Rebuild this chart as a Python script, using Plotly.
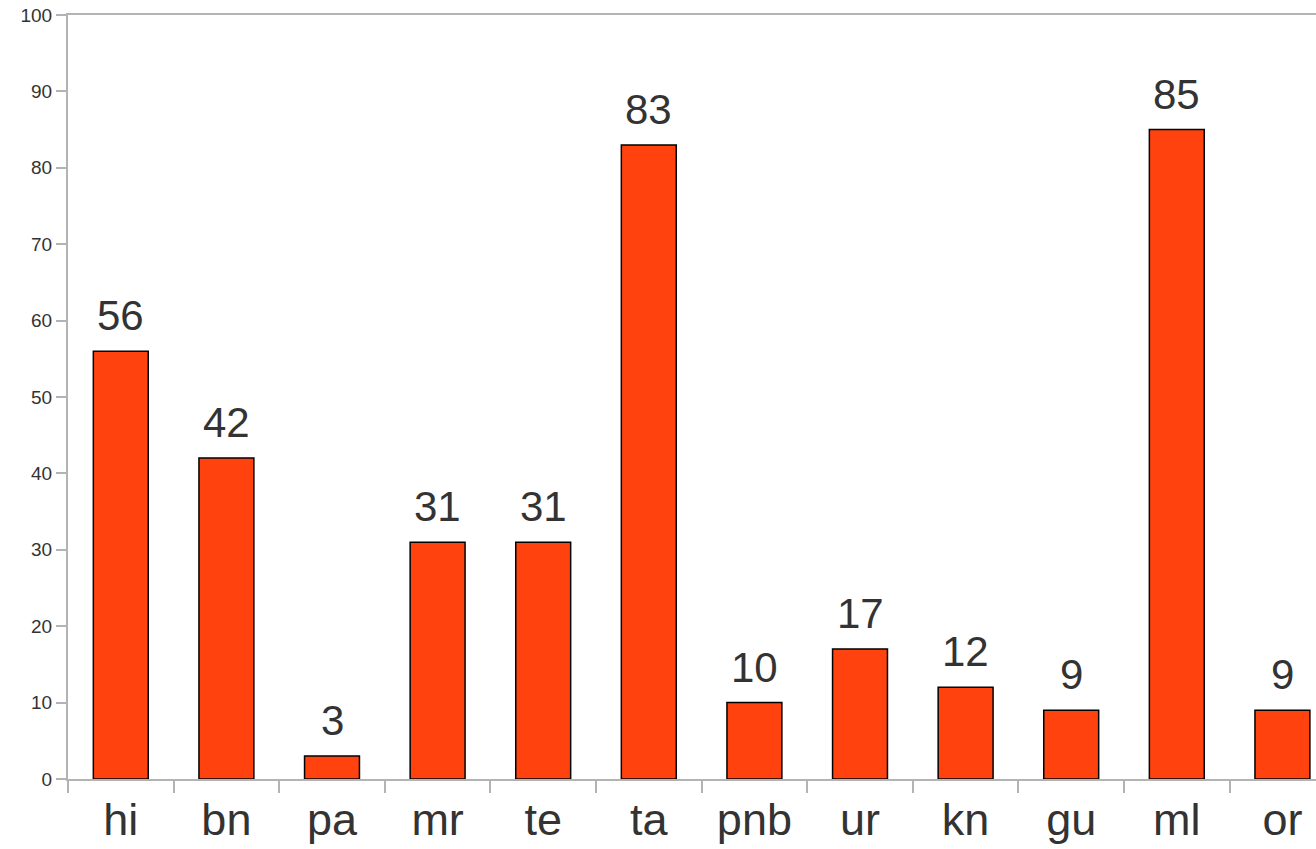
import plotly.graph_objects as go

categories = ["hi", "bn", "pa", "mr", "te", "ta", "pnb", "ur", "kn", "gu", "ml", "or"]
values = [56, 42, 3, 31, 31, 83, 10, 17, 12, 9, 85, 9]
y_ticks = list(range(0, 101, 10))

FONT = "Liberation Sans, Arial, sans-serif"
TEXT = "#333333"
AXIS = "#b3b3b3"

fig = go.Figure()
fig.add_trace(go.Bar(
    x=categories, y=values,
    marker=dict(color="#ff420e", line=dict(color="#000000", width=1.5)),
    hoverinfo="x+y",
))

for c, v in zip(categories, values):
    fig.add_annotation(x=c, y=v, text=str(v), showarrow=False,
                       yanchor="bottom", yshift=10,
                       font=dict(family=FONT, size=42, color=TEXT))

fig.update_layout(
    width=1316, height=849,
    margin=dict(l=68, r=0, t=15, b=70),
    paper_bgcolor="white", plot_bgcolor="white",
    bargap=0.48, showlegend=False,
    font=dict(family=FONT, color=TEXT),
    xaxis=dict(
        type="category", range=[-0.5, 11.318],
        showline=True, linecolor=AXIS, linewidth=2, mirror=True,
        ticks="outside", tickson="boundaries", ticklen=12, tickwidth=2, tickcolor=AXIS,
        tickfont=dict(family=FONT, size=45, color=TEXT),
        showgrid=False, zeroline=False, fixedrange=True,
    ),
    yaxis=dict(
        range=[0, 100], tickvals=y_ticks,
        showline=True, linecolor=AXIS, linewidth=2,
        ticks="outside", ticklen=10, tickwidth=2, tickcolor=AXIS,
        tickfont=dict(family=FONT, size=19, color=TEXT),
        showgrid=False, zeroline=False, fixedrange=True,
    ),
)

fig.write_html(
    "out.html",
    config={"displayModeBar": False},
    post_script="document.body.style.margin='0';document.body.style.overflow='hidden';",
)
